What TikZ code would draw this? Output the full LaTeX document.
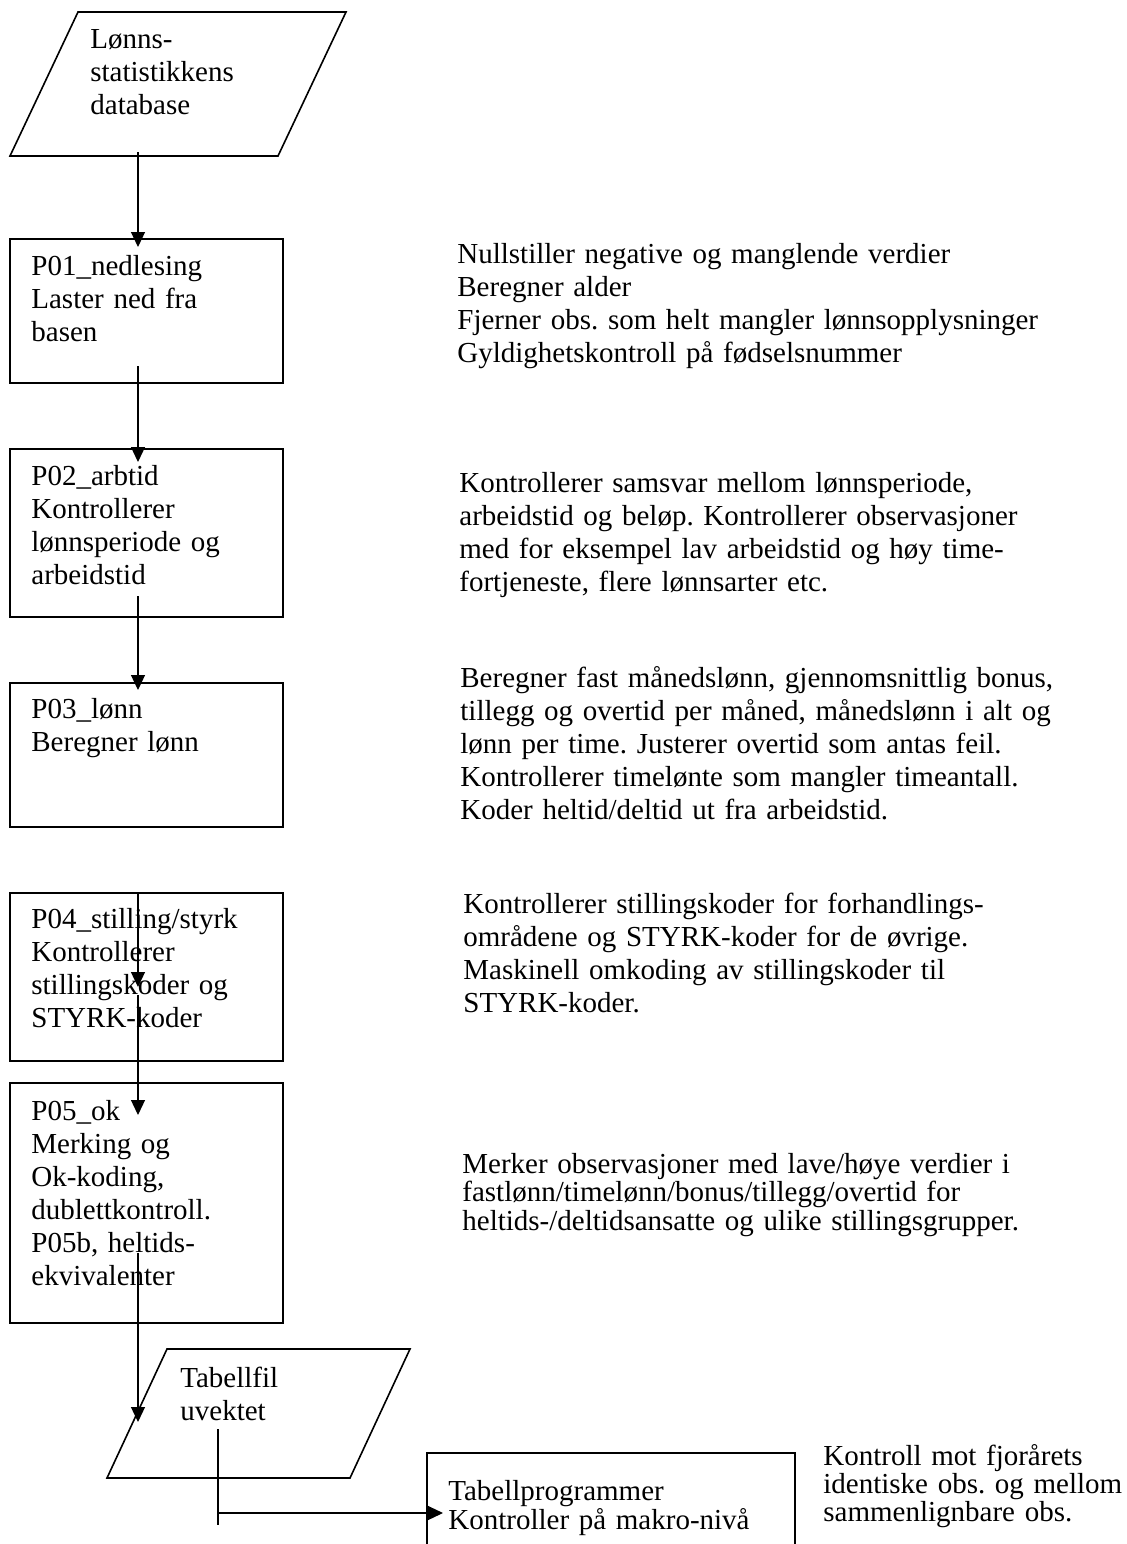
\documentclass[tikz,border=0pt]{standalone}
\usepackage{fontspec}
\setmainfont{Liberation Serif}
\frenchspacing
\usepackage{tikz}
\usetikzlibrary{positioning,arrows.meta,calc}

\begin{document}
\begin{tikzpicture}[x=0.5pt, y=-0.5pt,
		flowbox/.style={draw, rectangle, line width=0.8pt, minimum width=136.5pt, inner sep=0pt, outer sep=0pt},
		datafile/.style={rectangle, inner sep=0pt, outer sep=0pt},
		outline/.style={line width=0.8pt, line join=miter},
		flow/.style={line width=0.6pt, -{Triangle[length=7.5pt, width=7pt]}},
		boxtext/.style={anchor=base west, inner sep=0pt, align=left, text width=#1,
			font=\fontsize{14.5pt}{16.5pt}\selectfont},
		boxtext/.default=130pt,
		tighttext/.style={boxtext=#1, font=\fontsize{14.5pt}{12pt}\selectfont},
		tighttext/.default=190pt]
		\useasboundingbox (0,0) rectangle (1126,1544);
		\clip (0,0) rectangle (1126,1544);
		% flow chart
		\node[datafile, minimum width=168pt, minimum height=72pt] (dbase) at (178,84) {};
		\node[flowbox, minimum height=72pt, below=41.5pt of dbase, xshift=-15.75pt] (p01) {};
		\node[flowbox, minimum height=84pt, below=33pt of p01] (p02) {};
		\node[flowbox, minimum height=72pt, below=33pt of p02] (p03) {};
		\node[flowbox, minimum height=84pt, below=33pt of p03] (p04) {};
		\node[flowbox, minimum height=120pt, below=11pt of p04] (p05) {};
		\node[datafile, minimum width=151.5pt, minimum height=64.5pt, below=13pt of p05, xshift=56pt] (tabfil) {};
		\node[flowbox, minimum width=184pt, minimum height=60pt, anchor=north west] (tabprog) at (427,1453) {};
		% the two data files are slanted
		\foreach \f/\s in {dbase/34pt, tabfil/30pt}
			\draw[outline] ([xshift=\s]\f.north west) -- (\f.north east) -- ([xshift=-\s]\f.south east) -- (\f.south west) -- cycle;
		
		\node[boxtext] (dbasetxt) at ([shift={(80,36)}]dbase.north west) {Lønns-\\statistikkens\\database};
		\node[boxtext] (p01txt) at ([shift={(21,36)}]p01.north west) {P01\_nedlesing\\Laster ned fra\\basen};
		\node[boxtext] (p02txt) at ([shift={(21,36)}]p02.north west) {P02\_arbtid\\Kontrollerer\\lønnsperiode og\\arbeidstid};
		\node[boxtext] (p03txt) at ([shift={(21,35)}]p03.north west) {P03\_lønn\\Beregner lønn};
		\node[boxtext] (p04txt) at ([shift={(21,35)}]p04.north west) {P04\_stilling/styrk\\Kontrollerer\\stillingskoder og\\STYRK-koder};
		\node[boxtext] (p05txt) at ([shift={(21,37)}]p05.north west) {P05\_ok\\Merking og\\Ok-koding,\\dublettkontroll.\\P05b, heltids-\\ekvivalenter};
		\node[boxtext] (tabfiltxt) at ([shift={(73,38)}]tabfil.north west) {Tabellfil\\uvektet};
		\node[tighttext] (tabprogtxt) at ([shift={(21,47)}]tabprog.north west) {Tabellprogrammer\\Kontroller på makro-nivå};
		
		% notes
		\node[boxtext=345pt] (n01) at (457,263) {Nullstiller negative og manglende verdier\\Beregner alder\\Fjerner obs. som helt mangler lønnsopplysninger\\Gyldighetskontroll på fødselsnummer};
		\node[boxtext=345pt] (n02) at (459,492) {Kontrollerer samsvar mellom lønnsperiode,\\arbeidstid og beløp. Kontrollerer observasjoner\\med for eksempel lav arbeidstid og høy time-\\fortjeneste, flere lønnsarter etc.};
		\node[boxtext=345pt] (n03) at (460,687) {Beregner fast månedslønn, gjennomsnittlig bonus,\\tillegg og overtid per måned, månedslønn i alt og\\lønn per time. Justerer overtid som antas feil.\\Kontrollerer timelønte som mangler timeantall.\\Koder heltid/deltid ut fra arbeidstid.};
		\node[boxtext=345pt] (n04) at (463,913) {Kontrollerer stillingskoder for forhandlings-\\områdene og STYRK-koder for de øvrige.\\Maskinell omkoding av stillingskoder til\\STYRK-koder.};
		\node[tighttext=345pt] (n05) at (462,1173) {Merker observasjoner med lave/høye verdier i\\fastlønn/timelønn/bonus/tillegg/overtid for\\heltids-/deltidsansatte og ulike stillingsgrupper.};
		\node[tighttext=160pt] (n06) at (823,1465) {Kontroll mot fjorårets\\identiske obs. og mellom\\sammenlignbare obs.};
		
		% connectors
		\draw[flow] ([xshift=-20pt, yshift=2pt]dbase.south) -- ([xshift=-4.25pt, yshift=-4pt]p01.north);
		\draw[flow] ([xshift=-4.25pt, yshift=8.5pt]p01.south) -- ([xshift=-4.25pt, yshift=-6.5pt]p02.north);
		\draw[flow] ([xshift=-4.25pt, yshift=10.5pt]p02.south) -- ([xshift=-4.25pt, yshift=-3.5pt]p03.north);
		\draw[flow] ([xshift=-4.25pt]p04.north) -- ([xshift=-4.25pt, yshift=-47pt]p04.north);
		\draw[flow] ([xshift=-4.25pt, yshift=33pt]p04.south) -- ([xshift=-4.25pt, yshift=-16pt]p05.north);
		\draw[flow] ([xshift=-4.25pt, yshift=35pt]p05.south) -- ([xshift=-60.25pt, yshift=-4.25pt]tabfil.center);
		\draw[line width=0.6pt] ([xshift=-20.25pt, yshift=24.5pt]tabfil.south) -- ([xshift=-20.25pt, yshift=-23.5pt]tabfil.south);
		\coordinate (split) at ([xshift=-20.25pt, yshift=-17.5pt]tabfil.south);
		\draw[flow] (split) -- ([xshift=8pt]tabprog.west);
\end{tikzpicture}
\end{document}
